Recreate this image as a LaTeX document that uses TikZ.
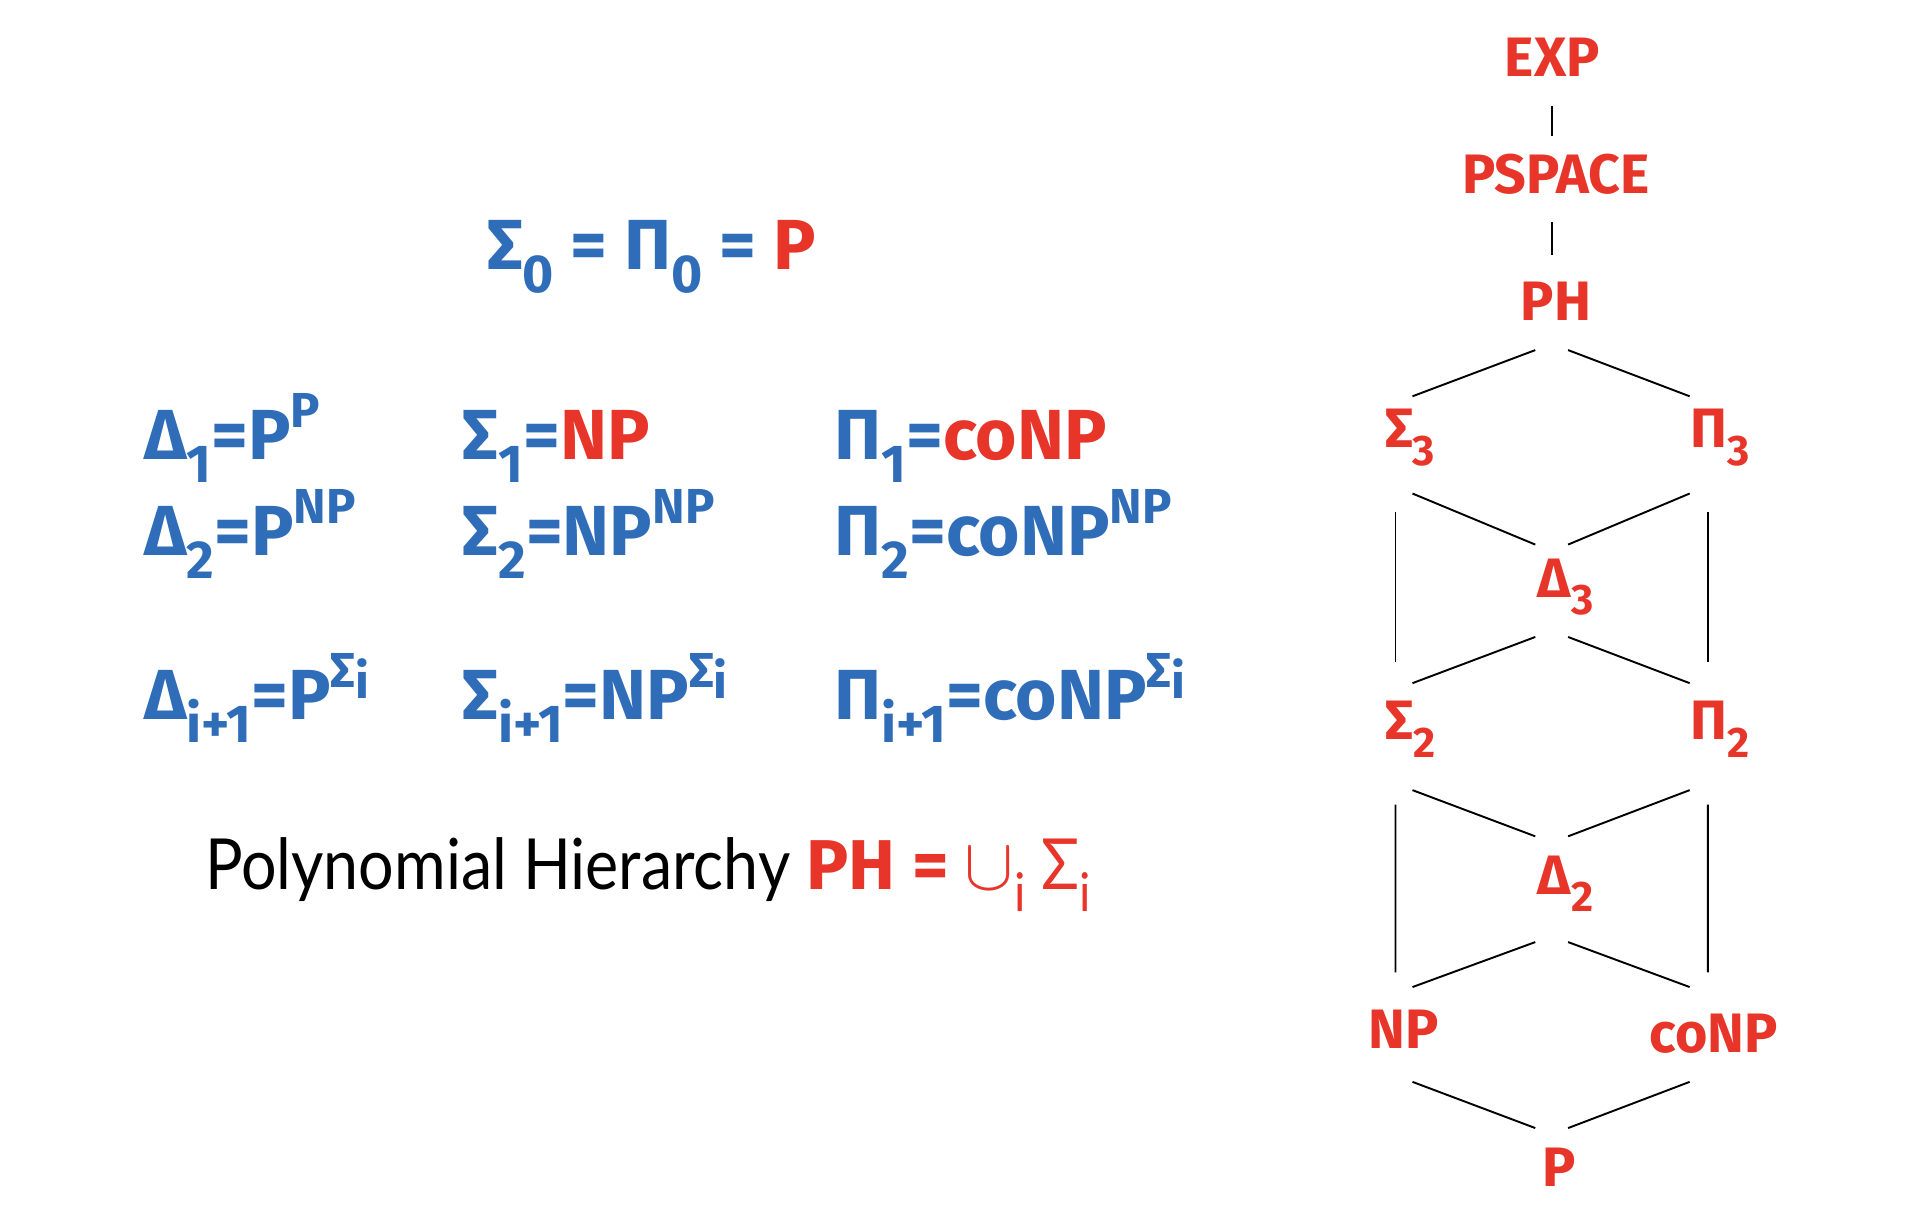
\documentclass[tikz,border=0pt]{standalone}
\usepackage{fontspec}
\setmainfont{Fira Sans}
\newfontfamily\notefont[FakeStretch=0.89]{Lato}
\usetikzlibrary{positioning}
\definecolor{HierBlue}{HTML}{2F6DB9}
\definecolor{HierRed}{HTML}{E8352A}
\newcommand{\lo}[1]{\raisebox{-0.6ex}{\fontsize{12.5}{12.5}\selectfont #1}}
\newcommand{\hi}[1]{\raisebox{0.85ex}{\fontsize{11.5}{11.5}\selectfont #1}}
\newcommand{\dsub}[1]{\raisebox{-0.6ex}{\fontsize{10}{10}\selectfont #1}}

\begin{document}
\begin{tikzpicture}[
    formula/.style={anchor=base west, inner sep=0pt, text=HierBlue, font=\fontsize{16.6}{19}\selectfont\bfseries},
    cls/.style={text=HierRed, inner sep=0pt, font=\fontsize{13}{15}\selectfont\bfseries},
    link/.style={black, line width=0.45pt}
]
    \useasboundingbox (0,-0.06) rectangle (15.68,10);

    % Definitions
    \node[formula, anchor=base] (zero) at (5.36,7.78) {Σ\lo{0} = Π\lo{0} = \textcolor{HierRed}{P}};
    \node[formula] (dOne) at (1.18,6.22) {Δ\lo{1}=P\hi{P}};
    \node[formula] (sOne) at (3.80,6.22) {Σ\lo{1}=\textcolor{HierRed}{NP}};
    \node[formula] (pOne) at (6.86,6.22) {Π\lo{1}=\textcolor{HierRed}{coNP}};
    \node[formula] (dTwo) at (1.18,5.43) {Δ\lo{2}=P\hi{NP}};
    \node[formula] (sTwo) at (3.80,5.43) {Σ\lo{2}=NP\hi{NP}};
    \node[formula] (pTwo) at (6.86,5.43) {Π\lo{2}=coNP\hi{NP}};
    \node[formula] (dNext) at (1.18,4.08) {Δ\lo{i+1}=P\hi{Σ\raisebox{-0.4ex}{i}}};
    \node[formula] (sNext) at (3.80,4.08) {Σ\lo{i+1}=NP\hi{Σ\raisebox{-0.4ex}{i}}};
    \node[formula] (pNext) at (6.86,4.08) {Π\lo{i+1}=coNP\hi{Σ\raisebox{-0.4ex}{i}}};

    \node[formula, text=black, font=\fontsize{16.5}{20}\selectfont\notefont] (union) at (1.68,2.68)
        {Polynomial Hierarchy \textcolor{HierRed}{{\rmfamily\bfseries PH =} $\cup$\lo{i} Σ\lo{i}}};

    % Hierarchy
    \node[cls] (exp) at (12.77,9.53) {EXP};
    \node[cls] (pspace) at (12.80,8.57) {PSPACE};
    \node[cls] (ph) at (12.80,7.52) {PH};
    \node[cls] (sig3) at (11.60,6.40) {Σ\dsub{3}};
    \node[cls] (pi3) at (14.15,6.40) {Π\dsub{3}};
    \node[cls] (del3) at (12.88,5.17) {Δ\dsub{3}};
    \node[cls] (sig2) at (11.60,4.00) {Σ\dsub{2}};
    \node[cls] (pi2) at (14.15,4.00) {Π\dsub{2}};
    \node[cls] (del2) at (12.88,2.73) {Δ\dsub{2}};
    \node[cls] (np) at (11.55,1.53) {NP};
    \node[cls] (conp) at (14.10,1.50) {coNP};
    \node[cls] (p) at (12.83,0.40) {P};

    % Inclusions
    \foreach \a/\ax/\ay/\b/\bx/\by in {
        exp/0/-0.40/pspace/-0.03/0.31, pspace/-0.03/-0.40/ph/-0.03/0.38,
        ph/-0.17/-0.40/sig3/0.02/0.34, ph/0.10/-0.40/pi3/-0.25/0.34,
        sig3/0.02/-0.46/del3/-0.25/0.35, pi3/-0.25/-0.46/del3/0.02/0.35,
        sig3/-0.12/-0.61/sig2/-0.12/0.55, pi3/-0.10/-0.61/pi2/-0.10/0.55,
        del3/-0.25/-0.41/sig2/0.02/0.38, del3/0.02/-0.41/pi2/-0.25/0.38,
        sig2/0.02/-0.50/del2/-0.25/0.39, pi2/-0.25/-0.50/del2/0.02/0.39,
        sig2/-0.12/-0.62/np/-0.07/0.47, pi2/-0.10/-0.62/conp/-0.05/0.50,
        del2/-0.25/-0.48/np/0.07/0.35, del2/0.02/-0.48/conp/-0.20/0.38,
        np/0.07/-0.43/p/-0.20/0.32, conp/-0.20/-0.40/p/0.07/0.32} {
        \draw[link] ([shift={(\ax,\ay)}]\a.center) -- ([shift={(\bx,\by)}]\b.center);
    }
\end{tikzpicture}
\end{document}
